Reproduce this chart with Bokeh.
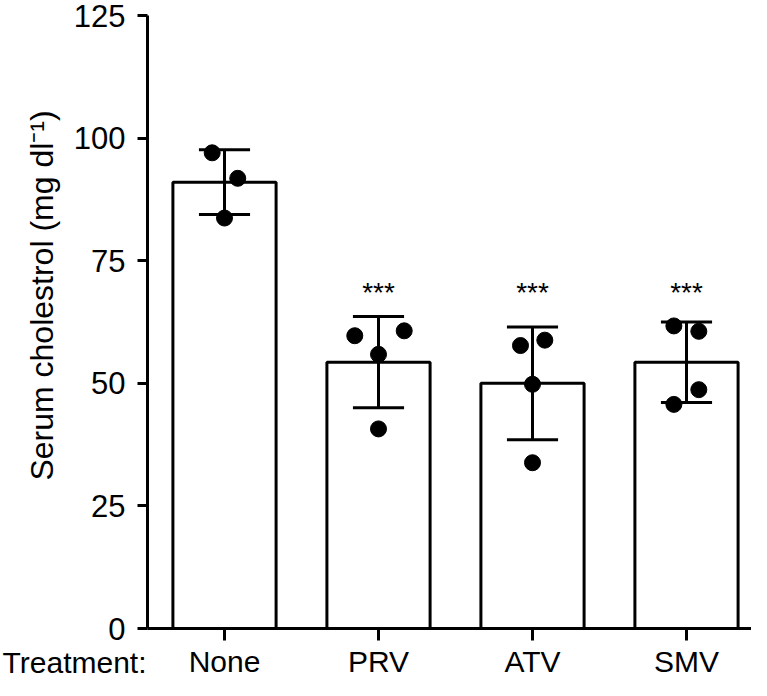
import math
from bokeh.plotting import figure
from bokeh.models import Range1d, FixedTicker
from bokeh.core.properties import value
from bokeh.embed import file_html
from bokeh.resources import INLINE

# ---- data ----
groups = ["None", "PRV", "ATV", "SMV"]
means = [91.0, 54.3, 50.0, 54.3]
sds = [6.6, 9.3, 11.5, 8.2]
pts_none = [97.0, 91.8, 83.7]
jit_none = [-0.08, 0.086, 0.0]
pts_prv = [59.7, 60.7, 55.9, 40.7]
jit_prv = [-0.154, 0.167, 0.0, 0.0]
pts_atv = [57.7, 58.8, 49.8, 33.8]
jit_atv = [-0.078, 0.08, 0.0, 0.0]
pts_smv = [61.7, 60.6, 48.7, 45.7]
jit_smv = [-0.082, 0.08, 0.08, -0.082]
stars = ["", "***", "***", "***"]
y_ticks = [0, 25, 50, 75, 100, 125]
y_label = "Serum cholestrol (mg dl\u207b\u00b9)"
x_title = "Treatment:"

FONT = "Liberation Sans"
W, H = 751, 680
# pixel geometry of the plotting area (axes drawn at fixed locations)
X_PER = 154.0          # px per category
AX_X = 147.0           # y-axis pixel column
Y_TOP = 15.0           # pixel row of y = 125
Y0 = 628.0             # pixel row of y = 0
Y_PER = (Y0 - Y_TOP) / 125.0
x_start = -0.5 - AX_X / X_PER
x_end = x_start + W / X_PER
y_start = -(H - Y0) / Y_PER
y_end = y_start + H / Y_PER


def ypix(pix):
    return (Y0 - pix) / Y_PER


p = figure(width=W, height=H, output_backend="svg", toolbar_location=None,
           x_range=Range1d(x_start, x_end), y_range=Range1d(y_start, y_end),
           min_border=0)
p.outline_line_color = None
p.grid.visible = False
p.background_fill_color = "white"

xs = list(range(len(groups)))
p.vbar(x=xs, top=means, width=0.67, bottom=0,
       fill_color="white", line_color="black", line_width=3)

lo = [m - s for m, s in zip(means, sds)]
hi = [m + s for m, s in zip(means, sds)]
p.segment(x0=xs, x1=xs, y0=lo, y1=hi, line_color="black", line_width=3)
cap = 0.166
p.segment(x0=[x - cap for x in xs], x1=[x + cap for x in xs], y0=hi, y1=hi,
          line_color="black", line_width=3)
p.segment(x0=[x - cap for x in xs], x1=[x + cap for x in xs], y0=lo, y1=lo,
          line_color="black", line_width=3)

all_pts = [pts_none, pts_prv, pts_atv, pts_smv]
all_jit = [jit_none, jit_prv, jit_atv, jit_smv]
px, py = [], []
for i, (vals, jit) in enumerate(zip(all_pts, all_jit)):
    for v, j in zip(vals, jit):
        px.append(i + j)
        py.append(v)
p.scatter(px, py, size=16, fill_color="black", line_color="black")

p.text(x=xs, y=[ypix(291.7)] * len(xs), text=stars, text_align="center",
       text_baseline="alphabetic", text_font=value(FONT), text_font_size="28px",
       text_color="black")

# axes at fixed locations
for ax in (p.xaxis[0], p.yaxis[0]):
    ax.axis_line_width = 3
    ax.axis_line_color = "black"
    ax.major_tick_line_width = 3
    ax.major_tick_line_color = "black"
    ax.major_tick_in = 0
    ax.minor_tick_line_color = None
    ax.major_label_text_font = FONT
    ax.major_label_text_color = "black"

p.yaxis.fixed_location = -0.5
p.yaxis.bounds = (0, 125)
p.yaxis.ticker = FixedTicker(ticks=y_ticks)
p.yaxis.major_tick_out = 10
p.yaxis.major_label_standoff = 12
p.yaxis.major_label_text_font_size = "31px"

p.xaxis.fixed_location = 0
p.xaxis.bounds = (-0.5, 3.5)
p.xaxis.ticker = FixedTicker(ticks=xs)
p.xaxis.major_label_overrides = {i: g for i, g in enumerate(groups)}
p.xaxis.major_tick_out = 12
p.xaxis.major_label_standoff = 4
p.xaxis.major_label_text_font_size = "30px"

# "Treatment:" to the left of the category labels
p.text(x=[-0.5 - 1.0 / X_PER], y=[ypix(661.5)], text=[x_title],
       text_align="right", text_baseline="alphabetic", text_font=value(FONT),
       text_font_size="30px", text_color="black")

# y-axis title
p.text(x=[-0.5 - (AX_X - 41) / X_PER], y=[ypix(295)], text=[y_label],
       angle=math.pi / 2, text_align="center", text_baseline="middle",
       text_font=value(FONT), text_font_size="32px", text_color="black")

open("out.html", "w").write(file_html(p, INLINE))
